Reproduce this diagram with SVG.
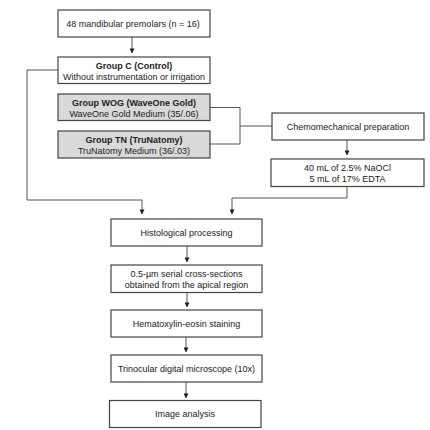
<svg xmlns="http://www.w3.org/2000/svg" width="430" height="430" viewBox="0 0 430 430">
<defs>
<marker id="ah" viewBox="0 0 6 6" refX="5.5" refY="3" markerWidth="5" markerHeight="5" orient="auto" markerUnits="userSpaceOnUse">
<path d="M0,0 L6,3 L0,6 z" fill="#222"/>
</marker>
</defs>
<style>
.box{fill:#fff;stroke:#444;stroke-width:1.2}
.gbox{fill:#d9d9d9;stroke:#444;stroke-width:1.2}
.t{font-family:"Liberation Sans",Arial,sans-serif;font-size:9px;fill:#222;text-anchor:middle}
.b{font-weight:bold}
.c{fill:none;stroke:#555;stroke-width:1}
</style>
<rect width="430" height="430" fill="#fff"/>
<g id="connectors">
<path class="c" d="M132,37 V53" marker-end="url(#ah)"/>
<path class="c" d="M58,70 H27 V200 H142 V214" marker-end="url(#ah)"/>
<path class="c" d="M210,107.5 H240 V144 H210"/>
<path class="c" d="M240,126 H272"/>
<path class="c" d="M347,140 V155" marker-end="url(#ah)"/>
<path class="c" d="M347,186.5 V198 H232 V214" marker-end="url(#ah)"/>
<path class="c" d="M187,246 V262" marker-end="url(#ah)"/>
<path class="c" d="M187,292 V307" marker-end="url(#ah)"/>
<path class="c" d="M186,337 V352" marker-end="url(#ah)"/>
<path class="c" d="M186,382 V398" marker-end="url(#ah)"/>
</g>
<g id="n1"><rect class="box" x="58" y="10" width="152" height="27"/><text class="t" x="133" y="26.5">48 mandibular premolars (n = 16)</text></g>
<g id="nC"><rect class="box" x="58" y="57" width="152" height="26.5"/><text class="t b" x="134" y="68.5">Group C (Control)</text><text class="t" x="134" y="80">Without instrumentation or irrigation</text></g>
<g id="nWOG"><rect class="gbox" x="58" y="94" width="152" height="26.5"/><text class="t b" x="134" y="105.5">Group WOG (WaveOne Gold)</text><text class="t" x="134" y="117">WaveOne Gold Medium (35/.06)</text></g>
<g id="nTN"><rect class="gbox" x="58" y="131" width="152" height="27"/><text class="t b" x="134" y="142.5">Group TN (TruNatomy)</text><text class="t" x="134" y="154">TruNatomy Medium (36/.03)</text></g>
<g id="nChem"><rect class="box" x="272" y="113" width="152" height="27"/><text class="t" x="348" y="129.5">Chemomechanical preparation</text></g>
<g id="nIrr"><rect class="box" x="271" y="159" width="153" height="27.5"/><text class="t" x="347.5" y="170.5">40 mL of 2.5% NaOCl</text><text class="t" x="347.5" y="182">5 mL of 17% EDTA</text></g>
<g id="nHist"><rect class="box" x="111" y="219" width="151" height="27"/><text class="t" x="186.5" y="235.5">Histological processing</text></g>
<g id="nSec"><rect class="box" x="111" y="265" width="151" height="27.5"/><text class="t" x="186.5" y="276.5">0.5-µm serial cross-sections</text><text class="t" x="186.5" y="288">obtained from the apical region</text></g>
<g id="nHE"><rect class="box" x="111" y="310" width="151" height="27"/><text class="t" x="186.5" y="326.5">Hematoxylin-eosin staining</text></g>
<g id="nMic"><rect class="box" x="111" y="355" width="151" height="27"/><text class="t" x="186.5" y="371.5">Trinocular digital microscope (10x)</text></g>
<g id="nImg"><rect class="box" x="109.5" y="400.5" width="151.5" height="27"/><text class="t" x="185" y="416.5">Image analysis</text></g>
</svg>
